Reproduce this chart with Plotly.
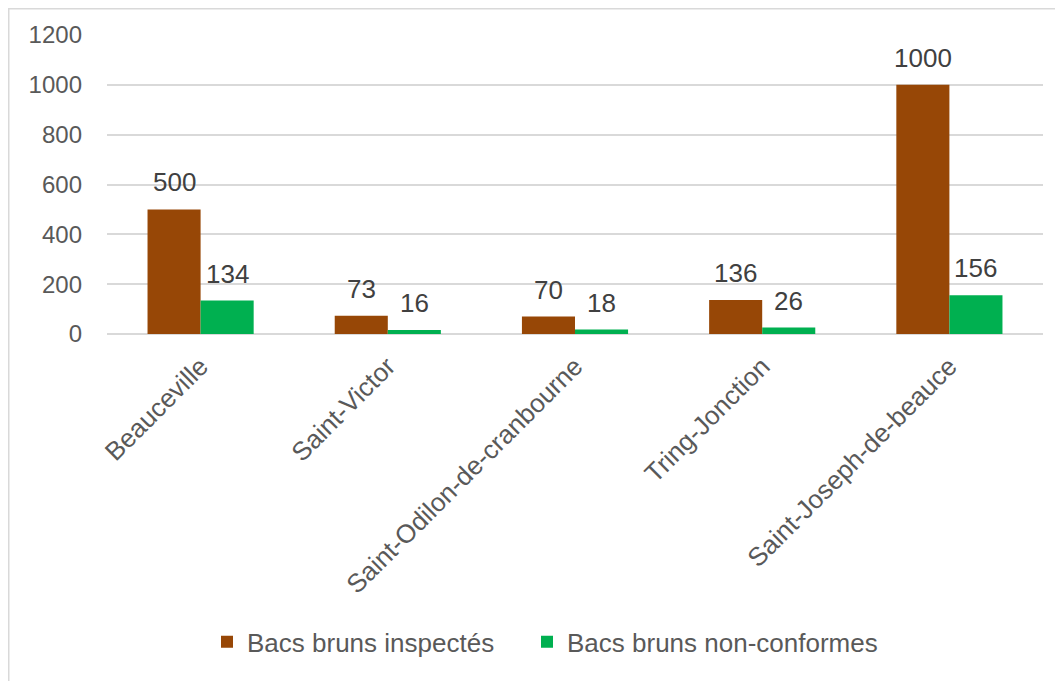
import plotly.graph_objects as go

categories = ["Beauceville", "Saint-Victor", "Saint-Odilon-de-cranbourne", "Tring-Jonction", "Saint-Joseph-de-beauce"]
inspected = [500, 73, 70, 136, 1000]
nonconform = [134, 16, 18, 26, 156]
series_names = ["Bacs bruns inspectés", "Bacs bruns non-conformes"]
y_ticks = [0, 200, 400, 600, 800, 1000, 1200]

FONT = "Liberation Sans, Arial, sans-serif"
COLORS = ["#974706", "#00B050"]

ML, MT = 99, 27
PLOT_W = 936
PLOT_H = 299
BAR_W = 53

fig = go.Figure()
for i, (name, vals, col) in enumerate(zip(series_names, [inspected, nonconform], COLORS)):
    fig.add_trace(go.Bar(
        x=categories, y=vals, name=name,
        marker=dict(color=col, line=dict(width=0)),
        legend="legend" if i == 0 else "legend2",
    ))

annotations = []
for vals, shift in [(inspected, -BAR_W / 2), (nonconform, BAR_W / 2)]:
    for c, v in zip(categories, vals):
        annotations.append(dict(
            x=c, y=v, xref="x", yref="y", text=str(v), showarrow=False,
            xanchor="center", yanchor="bottom", xshift=shift, yshift=10,
            font=dict(family=FONT, size=26, color="#404040"),
        ))

legend_style = dict(orientation="h", xanchor="left", y=-1.03, yanchor="middle",
                    font=dict(family=FONT, size=26, color="#595959"),
                    bgcolor="rgba(0,0,0,0)")

fig.update_layout(
    width=1063, height=681,
    paper_bgcolor="white", plot_bgcolor="white",
    margin=dict(l=ML, r=28, t=MT, b=355, autoexpand=False),
    barmode="group", bargap=0.433, bargroupgap=0,
    font=dict(family=FONT, size=24, color="#595959"),
    showlegend=True,
    legend=dict(x=100 / PLOT_W, **legend_style),
    legend2=dict(x=420 / PLOT_W, **legend_style),
    xaxis=dict(tickangle=-45, showgrid=False, showline=False, ticks="",
               ticklabelstandoff=11,
               tickfont=dict(family=FONT, size=26, color="#595959")),
    yaxis=dict(range=[0, 1200], tickvals=y_ticks, showgrid=True, gridcolor="#D9D9D9",
               gridwidth=1.5, zeroline=True, zerolinecolor="#D9D9D9", zerolinewidth=1.5,
               showline=False, ticks="", ticklabelstandoff=24,
               tickfont=dict(family=FONT, size=24, color="#595959")),
    annotations=annotations,
    shapes=[dict(type="rect", xref="paper", yref="paper",
                 x0=-(ML - 0.75) / PLOT_W, x1=1 + 60 / PLOT_W,
                 y0=-400 / PLOT_H, y1=1 + (MT - 0.75) / PLOT_H,
                 line=dict(color="#D9D9D9", width=1.5), fillcolor="rgba(0,0,0,0)", layer="below")],
)

fig.write_html("out.html")
